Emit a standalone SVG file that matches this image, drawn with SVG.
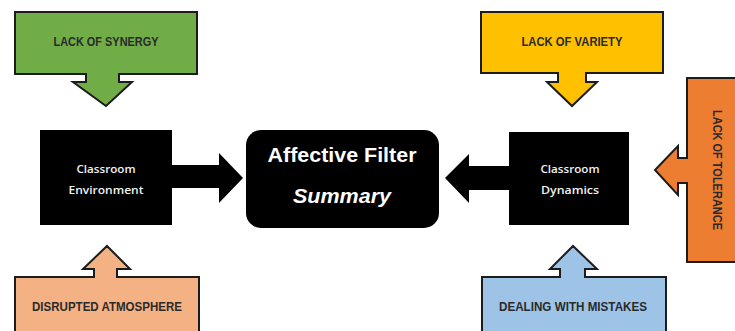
<svg xmlns="http://www.w3.org/2000/svg" width="735" height="331" viewBox="0 0 735 331">
  <style>
    .callout { stroke: #1c1c1c; stroke-width: 2; stroke-linejoin: miter; }
    .lbl { font-family: "Liberation Sans", Arial, sans-serif; font-weight: bold; font-size: 12.5px; fill: #2a2a2a; text-anchor: middle; }
    .box { fill: #000; }
    .boxtxt { font-family: "Open Sans", "Liberation Sans", sans-serif; font-weight: 600; font-size: 11.5px; fill: #f2f2f2; text-anchor: middle; }
    .title { font-family: "Liberation Sans", Arial, sans-serif; font-weight: bold; font-size: 19.5px; fill: #fff; text-anchor: middle; }
    .link { fill: #000; }
  </style>
  <rect width="735" height="331" fill="#fff"/>

  <!-- connectors -->
  <g id="connectors">
    <path class="link" d="M172,165 H219 V153 L243,178 L219,203 V188 H172 Z"/>
    <path class="link" d="M509,166 H469 V154 L445,178 L469,203 V190 H509 Z"/>
  </g>

  <g id="lack-of-synergy">
    <path class="callout" fill="#70AD47" d="M15,12 H197 V74 H119 V82 H132 L106,106 L73,82 H86 V74 H15 Z"/>
    <text class="lbl" x="106" y="46" textLength="105" lengthAdjust="spacingAndGlyphs">LACK OF SYNERGY</text>
  </g>

  <g id="lack-of-variety">
    <path class="callout" fill="#FFC000" d="M481,12 H663 V73 H586 V82 H597 L572,106 L547,82 H558 V73 H481 Z"/>
    <text class="lbl" x="572" y="46" textLength="101" lengthAdjust="spacingAndGlyphs">LACK OF VARIETY</text>
  </g>

  <g id="lack-of-tolerance">
    <path class="callout" fill="#ED7D31" d="M745,78 H687 V158 H678 V146 L655,170 L678,195 V183 H687 V262 H745 Z"/>
    <text class="lbl" transform="translate(713,170) rotate(90)" x="0" y="0" textLength="120" lengthAdjust="spacingAndGlyphs">LACK OF TOLERANCE</text>
  </g>

  <g id="disrupted-atmosphere">
    <path class="callout" fill="#F4B183" d="M15,340 V277 H94 V269 H83 L107,246 L130,269 H117 V277 H199 V340 Z"/>
    <text class="lbl" x="107" y="311" textLength="150" lengthAdjust="spacingAndGlyphs">DISRUPTED ATMOSPHERE</text>
  </g>

  <g id="dealing-with-mistakes">
    <path class="callout" fill="#9DC3E6" d="M482,340 V277 H560 V269 H550 L573,246 L597,269 H585 V277 H666 V340 Z"/>
    <text class="lbl" x="573" y="311" textLength="148" lengthAdjust="spacingAndGlyphs">DEALING WITH MISTAKES</text>
  </g>

  <g id="classroom-environment">
    <rect class="box" x="40" y="130" width="132" height="95"/>
    <text class="boxtxt" x="106" y="173" textLength="59" lengthAdjust="spacingAndGlyphs">Classroom</text>
    <text class="boxtxt" x="106" y="194" textLength="75" lengthAdjust="spacingAndGlyphs">Environment</text>
  </g>

  <g id="classroom-dynamics">
    <rect class="box" x="509" y="132" width="120" height="93"/>
    <text class="boxtxt" x="570" y="173" textLength="59" lengthAdjust="spacingAndGlyphs">Classroom</text>
    <text class="boxtxt" x="570" y="194" textLength="58" lengthAdjust="spacingAndGlyphs">Dynamics</text>
  </g>

  <g id="affective-filter">
    <rect class="box" x="246" y="130" width="193" height="98" rx="15" ry="15"/>
    <text class="title" x="342" y="162" textLength="149" lengthAdjust="spacingAndGlyphs">Affective Filter</text>
    <text class="title" x="342" y="203" font-style="italic" textLength="98" lengthAdjust="spacingAndGlyphs">Summary</text>
  </g>
</svg>
